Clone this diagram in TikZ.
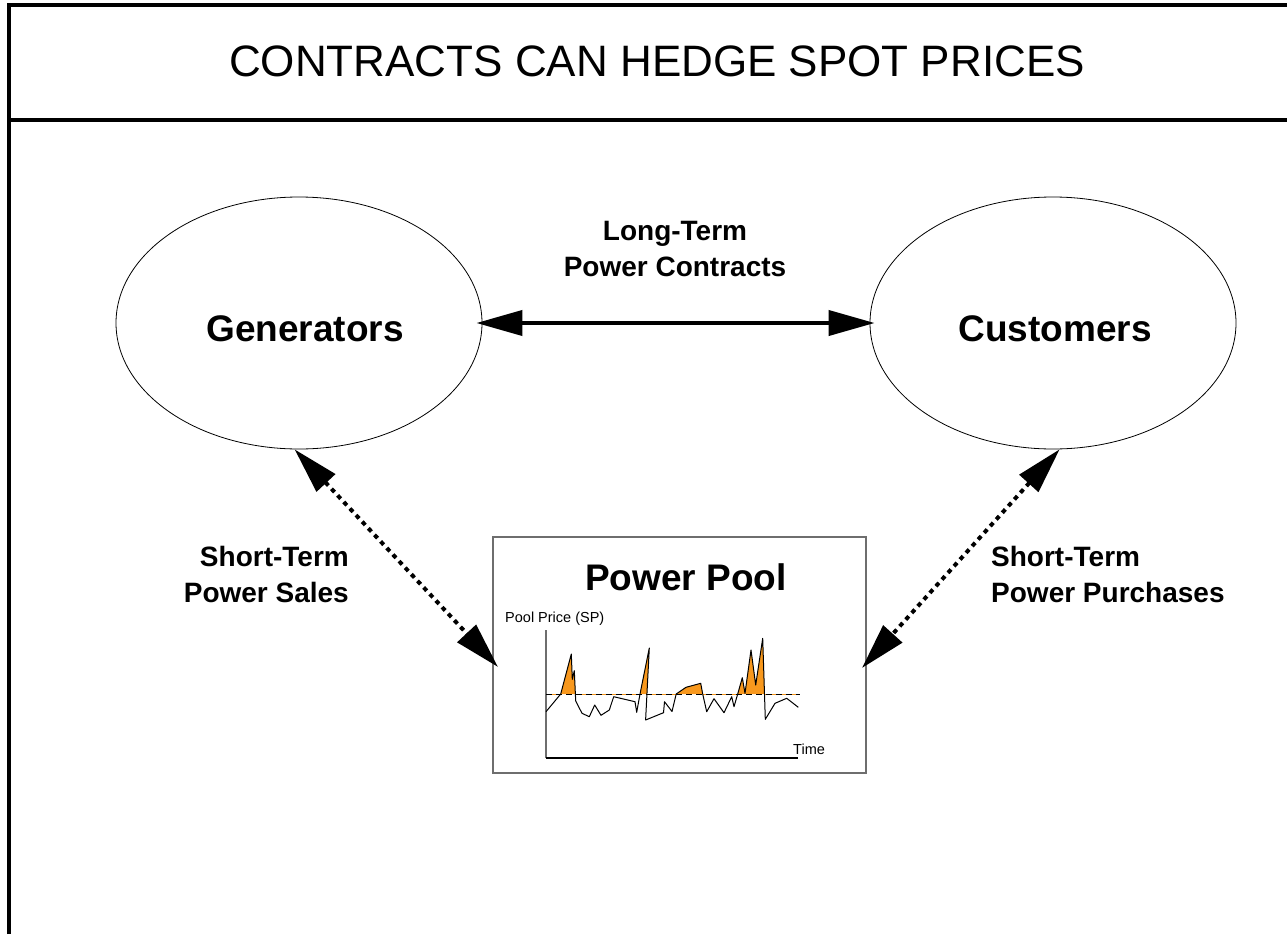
\documentclass[tikz,border=0pt]{standalone}
\usepackage{fontspec}
\setmainfont{Liberation Sans}
\usetikzlibrary{arrows.meta,shapes.geometric,calc}
\definecolor{spike}{RGB}{248,152,29}
\definecolor{boxgray}{RGB}{110,110,110}
\tikzset{
  framerule/.style={line width=4pt, black},
  oval/.style={ellipse, draw, line width=0.8pt, minimum width=366pt, minimum height=252pt, inner sep=0pt},
  bigtxt/.style={font=\bfseries\fontsize{37}{44}\selectfont, inner sep=0pt, anchor=base},
  lbl/.style={font=\bfseries\fontsize{28}{36}\selectfont, inner sep=0pt},
  smalltxt/.style={font=\fontsize{14.5}{17}\selectfont, inner sep=0pt, anchor=base west},
  biarrow/.style={line width=4pt, {Triangle[length=46pt,width=25pt]}-{Triangle[length=46pt,width=25pt]}},
  dotarrow/.style={biarrow, dash pattern=on 4.5pt off 4.5pt},
  poolbox/.style={rectangle, draw=boxgray, line width=1.3pt, minimum width=373pt, minimum height=236pt, inner sep=0pt, outer sep=0pt}
}
\begin{document}
\begin{tikzpicture}[x=1pt,y=-1pt]
\useasboundingbox (0,0) rectangle (1287,934);
% frame
\draw[framerule] (9,934) -- (9,5) -- (1290,5);
\draw[framerule] (9,119.7) -- (1290,119.7);
\node[font=\fontsize{44}{50}\selectfont, inner sep=0pt, anchor=base] (title) at (657,77) {CONTRACTS CAN HEDGE SPOT PRICES};

% ellipses
\node[oval] (gen) at (299,323) {};
\node[oval] (cus) at (1053,323) {};
\node[bigtxt] (gentxt) at (305,341) {Generators};
\node[bigtxt] (custxt) at (1055,341) {Customers};

% pool box
\node[poolbox] (pool) at (679.5,655) {};
\node[bigtxt] (pooltxt) at (686,590) {Power Pool};

% labels (base anchor = baseline of last line)
\node[lbl, align=center, anchor=base] (lt) at (675,276) {Long-Term\\Power Contracts};
\node[lbl, align=right, anchor=base east] (st1) at (349,602) {Short-Term\\Power Sales};
\node[lbl, align=left, anchor=base west] (st2) at (991,602) {Short-Term\\Power Purchases};

% arrows
\draw[biarrow, shorten <=-6pt, shorten >=-5pt] (gen.east) -- (cus.west);
\draw[dotarrow] (gen.268) -- ($(pool.west)+(5,12)$);
\draw[dotarrow] (cus.273) -- ($(pool.east)+(-4,13)$);

% chart
\node[smalltxt] (ylab) at (505,622) {Pool Price (SP)};
\node[smalltxt] (xlab) at (793,754) {Time};
\draw[boxgray, line width=1.3pt] (546,630) -- (546,758);
\draw[black, line width=1.3pt] (546,758) -- (798,758);
\def\curve{(546,711.7) -- (560.7,694) -- (571.3,654) -- (572.3,679.3) -- (574.3,670.7) -- (575.7,701) -- (582,713.3) -- (589.3,716.7) -- (594.7,705) -- (601,715.3) -- (609.3,710) -- (613.7,696.7) -- (635,701.7) -- (636.7,712.3) -- (640,694) -- (649.3,648) -- (645.6,720) -- (663.5,712.7) -- (664.5,701.7) -- (672,711.5) -- (676.2,694) -- (686,687.3) -- (700.7,683.3) -- (702.7,694) -- (706.7,711.7) -- (714,698.7) -- (724,712.7) -- (731.7,696.7) -- (734,706.7) -- (737.7,694) -- (742.3,677.7) -- (745,693.3) -- (751,650) -- (755.7,685) -- (762.7,638.3) -- (765.3,719.3) -- (775,703.3) -- (786.7,698.3) -- (798.3,707.3)}
\begin{scope}
  \clip (540,600) rectangle (805,694);
  \fill[spike] \curve -- (798.3,694) -- (546,694) -- cycle;
\end{scope}
\draw[black, line width=1pt, dash pattern=on 6pt off 4pt] (546,694) -- (800,694);
\draw[black, line width=1pt, line join=round] \curve;
\end{tikzpicture}
\end{document}
